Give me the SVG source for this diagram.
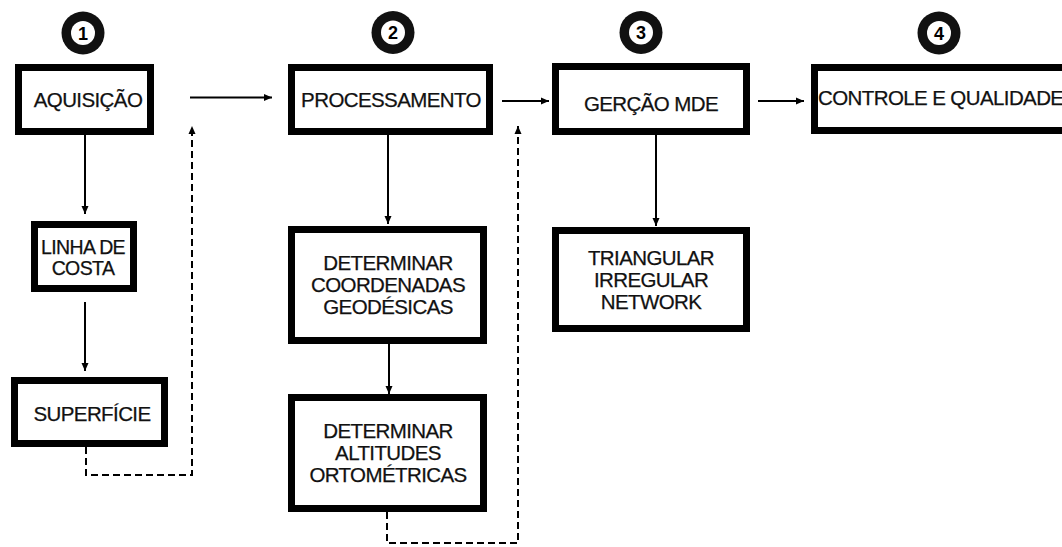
<svg xmlns="http://www.w3.org/2000/svg" width="1062" height="547" viewBox="0 0 1062 547">
<style>
.box{fill:#fff;stroke:#000;stroke-width:7}
.t{font-family:"Liberation Sans",Arial,sans-serif;font-size:20.5px;letter-spacing:-0.6px;fill:#111;stroke:#111;stroke-width:0.25;text-anchor:middle}
.c{stroke:#000;stroke-width:2;fill:none}
.d{stroke:#000;stroke-width:2;fill:none;stroke-dasharray:7 4}
.n{font-family:"Liberation Sans",Arial,sans-serif;font-size:18px;font-weight:bold;fill:#000;text-anchor:middle}
</style>
<defs>
<marker id="ah" markerUnits="userSpaceOnUse" markerWidth="9" markerHeight="8" refX="8" refY="4" orient="auto">
<path d="M0,0.5 L8,4 L0,7.5 z" fill="#000"/>
</marker>
</defs>
<rect width="1062" height="547" fill="#fff"/>
<g id="steps">
<g id="step1"><circle cx="83" cy="33" r="21.5" fill="#111"/><circle cx="83" cy="33" r="12" fill="#fff"/><text class="n" x="83" y="39.5">1</text></g>
<g id="step2"><circle cx="393" cy="32.5" r="21.5" fill="#111"/><circle cx="393" cy="32.5" r="12" fill="#fff"/><text class="n" x="393" y="39">2</text></g>
<g id="step3"><circle cx="641" cy="32.5" r="21.5" fill="#111"/><circle cx="641" cy="32.5" r="12" fill="#fff"/><text class="n" x="641" y="39">3</text></g>
<g id="step4"><circle cx="939" cy="33" r="21.5" fill="#111"/><circle cx="939" cy="33" r="12" fill="#fff"/><text class="n" x="939" y="39.5">4</text></g>
</g>
<g id="connectors">
<line class="c" x1="85" y1="135" x2="85" y2="214" marker-end="url(#ah)"/>
<line class="c" x1="85" y1="302" x2="85" y2="371" marker-end="url(#ah)"/>
<line class="c" x1="190" y1="97.5" x2="272" y2="97.5" marker-end="url(#ah)"/>
<path class="d" d="M86,447 V475 H192 V126" marker-end="url(#ah)"/>
<line class="c" x1="388" y1="135" x2="388" y2="224" marker-end="url(#ah)"/>
<line class="c" x1="389" y1="344" x2="389" y2="394" stroke-width="3" marker-end="url(#ah)"/>
<line class="c" x1="502" y1="101" x2="549" y2="101" marker-end="url(#ah)"/>
<path class="d" d="M387,512 V543 H518 V126" marker-end="url(#ah)"/>
<line class="c" x1="656" y1="135" x2="656" y2="226" marker-end="url(#ah)"/>
<line class="c" x1="758" y1="101" x2="804" y2="101" marker-end="url(#ah)"/>
</g>
<g id="aquisicao"><rect class="box" x="18.5" y="67.5" width="132" height="64"/><text class="t" x="88" y="107">AQUISIÇÃO</text></g>
<g id="linha-de-costa"><rect class="box" x="34.5" y="224.5" width="99" height="64"/><text class="t" x="83" y="254" style="font-size:19.5px">LINHA DE</text><text class="t" x="83" y="275" style="font-size:19.5px">COSTA</text></g>
<g id="superficie"><rect class="box" x="14.5" y="380.5" width="150" height="63"/><text class="t" x="92" y="421">SUPERFÍCIE</text></g>
<g id="processamento"><rect class="box" x="291.5" y="67.5" width="198" height="64"/><text class="t" x="391" y="107">PROCESSAMENTO</text></g>
<g id="coordenadas"><rect class="box" x="291.5" y="229.5" width="192" height="111"/><text class="t" x="388" y="270">DETERMINAR</text><text class="t" x="388" y="292">COORDENADAS</text><text class="t" x="388" y="314">GEODÉSICAS</text></g>
<g id="altitudes"><rect class="box" x="291.5" y="397.5" width="192" height="111"/><text class="t" x="388" y="438">DETERMINAR</text><text class="t" x="388" y="460">ALTITUDES</text><text class="t" x="388" y="482">ORTOMÉTRICAS</text></g>
<g id="geracao-mde"><rect class="box" x="555.5" y="66.5" width="191" height="65"/><text class="t" x="651" y="111">GERÇÃO MDE</text></g>
<g id="tin"><rect class="box" x="555.5" y="230.5" width="191" height="98"/><text class="t" x="651" y="265">TRIANGULAR</text><text class="t" x="651" y="287">IRREGULAR</text><text class="t" x="651" y="309">NETWORK</text></g>
<g id="controle"><rect class="box" x="814.5" y="67.5" width="262" height="63"/><text class="t" x="818" y="105" style="text-anchor:start">CONTROLE E QUALIDADE</text></g>
</svg>
